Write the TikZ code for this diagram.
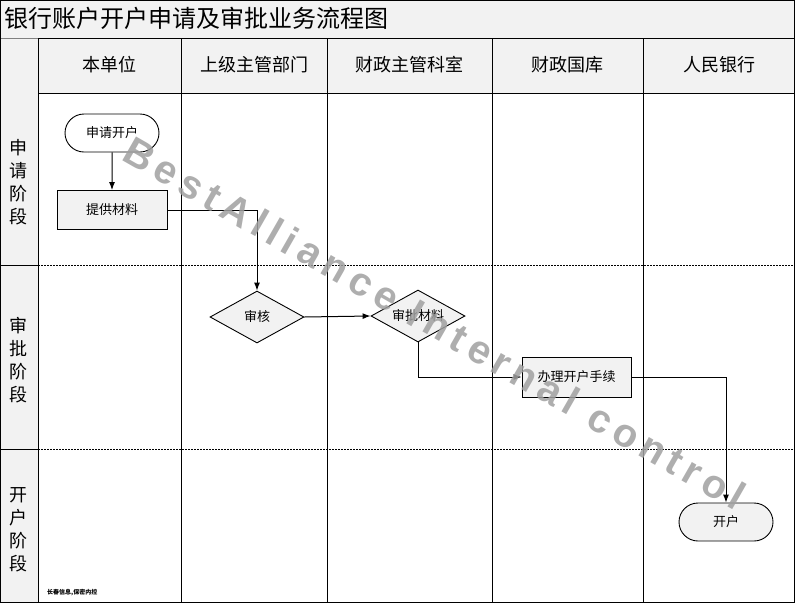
\documentclass[tikz,border=0pt]{standalone}
\usepackage{fontspec}
\setmainfont{Noto Sans CJK SC}
\newfontfamily\cjk{Noto Sans CJK SC}
\newfontfamily\wmfont[LetterSpace=16]{Liberation Sans}
\usetikzlibrary{arrows.meta,shapes.geometric,shapes.misc,positioning}
\definecolor{lanegray}{HTML}{F2F2F2}
\definecolor{nodegray}{HTML}{F2F2F2}
\definecolor{wmgray}{HTML}{A0A0A0}
\tikzset{
  every node/.style={font=\cjk},
  frameline/.style={draw=black,line width=1pt},
  laneline/.style={draw=black,line width=0.8pt,dash pattern=on 1.5pt off 1.5pt},
  procbox/.style={draw=black,fill=nodegray,line width=0.9pt,minimum width=110pt,minimum height=39pt,inner sep=0pt,font=\cjk\fontsize{13}{15}\selectfont},
  termbox/.style={draw=black,line width=0.9pt,rounded rectangle,minimum width=94pt,minimum height=38pt,inner sep=0pt,font=\cjk\fontsize{13}{15}\selectfont},
  decbox/.style={draw=black,fill=nodegray,line width=0.9pt,diamond,aspect=1.8,minimum width=94pt,minimum height=52pt,inner sep=0pt,font=\cjk\fontsize{13}{15}\selectfont},
  flow/.style={draw=black,line width=1pt,-{Latex[length=8pt,width=6pt]}},
  headtext/.style={font=\cjk\fontsize{18}{20}\selectfont},
  lanetext/.style={font=\cjk\fontsize{18}{23}\selectfont,align=center,text width=20pt},
}
\begin{document}
\begin{tikzpicture}[x=1pt,y=-1pt]
\useasboundingbox (0,0) rectangle (795,603);
% backgrounds
\fill[lanegray] (0,0) rectangle (795,38);
\fill[lanegray] (38,38) rectangle (795,93);
\fill[lanegray] (0,38) rectangle (38,603);
% title
\node[anchor=west,font=\cjk\fontsize{24}{26}\selectfont,inner sep=0pt] (title) at (4,18) {银行账户开户申请及审批业务流程图};
% grid
\draw[line width=0.6pt,draw=gray] (0,38) -- (795,38);
\draw[frameline] (38,38) -- (794,38);
\draw[frameline] (38,93) -- (794,93);
\foreach \x in {38,181,327,492,643} \draw[frameline] (\x,38) -- (\x,602);
\draw[frameline] (0.5,265) -- (38,265);
\draw[frameline] (0.5,449) -- (38,449);
\draw[laneline] (38,265) -- (794,265);
\draw[laneline] (38,449) -- (794,449);
\draw[line width=1.4pt] (0.7,0.7) rectangle (794.3,602.3);
% headers
\node[headtext] (h1) at (109.5,65) {本单位};
\node[headtext] (h2) at (254,65) {上级主管部门};
\node[headtext] (h3) at (409.5,65) {财政主管科室};
\node[headtext] (h4) at (567.5,65) {财政国库};
\node[headtext] (h5) at (719,65) {人民银行};
% lane labels
\node[lanetext] (l1) at (19,182) {申\\请\\阶\\段};
\node[lanetext] (l2) at (19,360) {审\\批\\阶\\段};
\node[lanetext] (l3) at (19,530) {开\\户\\阶\\段};
% nodes
\node[termbox,fill=white] (apply) at (112,133) {申请开户};
\node[procbox] (provide) at (112,210) {提供材料};
\node[decbox] (review) at (257,317) {审核};
\node[decbox] (approve) at (418,316) {审批材料};
\node[procbox,minimum width=109pt,minimum height=40pt] (handle) at (576.5,377) {办理开户手续};
\node[termbox,fill=nodegray] (open) at (726,522) {开户};
% connectors
\draw[flow] (apply) -- (provide);
\draw[flow] (provide.east) -| (review.north);
\draw[flow] (review.east) -- (approve.west);
\draw[flow] (approve.south) |- (handle.west);
\draw[flow] (handle.east) -| (open.north);
% footer note
\node[anchor=west,font=\cjk\bfseries\fontsize{6}{7}\selectfont,inner sep=0pt] (note) at (47,593) {长春信息,保密内控};
% watermark
\node[rotate=-29.8,text=wmgray,text opacity=0.85,font=\wmfont\bfseries\fontsize{40}{40}\selectfont,inner sep=0pt] (wm) at (435,323) {BestAlliance Internal control};
\end{tikzpicture}
\end{document}
